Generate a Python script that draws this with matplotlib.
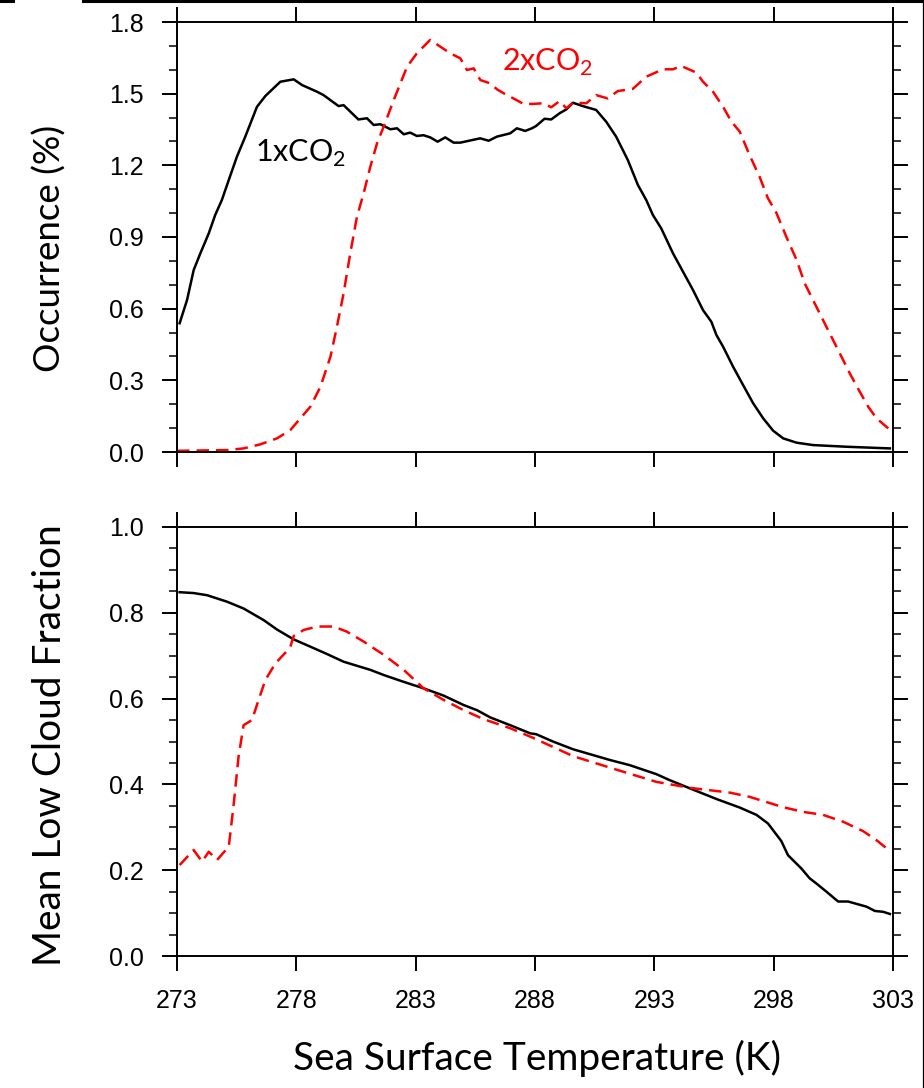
import matplotlib
matplotlib.use("Agg")
import matplotlib.pyplot as plt
from matplotlib.lines import Line2D
from matplotlib.ticker import MultipleLocator

# occurrence (%) vs SST
sst_occ_1x = [273.11, 273.42, 273.7, 273.98, 274.33, 274.6, 274.88, 275.17, 275.51, 275.86,
              276.35, 276.7, 277.33, 277.89, 278.24, 278.87, 279.14, 279.77, 279.98, 280.6,
              280.96, 281.24, 281.52, 281.94, 282.22, 282.5, 282.77, 283.05, 283.33, 283.61,
              283.92, 284.24, 284.59, 284.87, 285.7, 286.06, 286.4, 286.96, 287.24, 287.59,
              287.87, 288.05, 288.4, 288.68, 289.03, 289.31, 289.59, 290.0, 290.56, 290.98,
              291.4, 291.89, 292.31, 292.66, 292.94, 293.29, 293.78, 294.2, 294.62, 295.04,
              295.39, 295.6, 295.88, 296.3, 296.72, 297.14, 297.56, 297.98, 298.4, 298.96,
              299.65, 301.05, 302.87]
occ_1x = [0.539, 0.636, 0.762, 0.832, 0.915, 0.992, 1.055, 1.139, 1.236, 1.32,
          1.445, 1.49, 1.55, 1.56, 1.536, 1.508, 1.494, 1.448, 1.452, 1.392,
          1.397, 1.369, 1.372, 1.351, 1.355, 1.33, 1.337, 1.323, 1.326, 1.317,
          1.299, 1.317, 1.295, 1.295, 1.313, 1.303, 1.32, 1.334, 1.355, 1.344,
          1.355, 1.365, 1.395, 1.392, 1.418, 1.434, 1.462, 1.448, 1.432, 1.383,
          1.32, 1.222, 1.118, 1.055, 0.992, 0.936, 0.832, 0.755, 0.678, 0.594,
          0.545, 0.49, 0.441, 0.357, 0.28, 0.204, 0.141, 0.089, 0.057, 0.039,
          0.029, 0.022, 0.015]

sst_occ_2x = [273.0, 275.09, 275.79, 276.49, 277.19, 277.75, 278.17, 278.59, 279.01, 279.43,
              279.7, 279.98, 280.26, 280.54, 280.82, 281.1, 281.38, 281.66, 282.08, 282.64,
              283.05, 283.61, 284.03, 284.45, 284.87, 285.15, 285.43, 285.71, 286.13, 286.41,
              286.82, 287.1, 287.52, 287.9, 288.35, 288.68, 289.03, 289.31, 289.59, 290.15,
              290.56, 291.05, 291.47, 292.1, 292.66, 293.36, 293.78, 294.13, 294.76, 295.04,
              295.46, 295.88, 296.23, 296.58, 296.99, 297.41, 297.76, 298.11, 298.53, 298.96,
              299.3, 299.79, 300.21, 300.77, 301.19, 301.61, 301.96, 302.31, 302.8]
occ_2x = [0.005, 0.008, 0.015, 0.032, 0.057, 0.092, 0.141, 0.19, 0.273, 0.399,
          0.524, 0.664, 0.832, 0.985, 1.083, 1.194, 1.292, 1.362, 1.473, 1.613,
          1.669, 1.725, 1.697, 1.669, 1.648, 1.599, 1.606, 1.557, 1.543, 1.518,
          1.494, 1.48, 1.457, 1.457, 1.46, 1.443, 1.469, 1.439, 1.462, 1.46,
          1.494, 1.48, 1.511, 1.52, 1.571, 1.602, 1.602, 1.616, 1.588, 1.55,
          1.508, 1.445, 1.383, 1.341, 1.243, 1.152, 1.062, 1.002, 0.901, 0.804,
          0.706, 0.608, 0.524, 0.413, 0.329, 0.252, 0.19, 0.141, 0.099]

# mean low cloud fraction vs SST
sst_cf_1x = [273.11, 273.7, 274.26, 275.09, 275.79, 276.63, 277.19, 277.89, 278.59, 279.28,
             279.98, 281.1, 281.66, 282.5, 283.33, 284.17, 285.01, 285.57, 286.13, 286.96,
             287.8, 288.05, 288.75, 289.59, 291.13, 291.96, 293.08, 293.64, 294.48, 295.6,
             296.58, 297.28, 297.76, 298.32, 298.6, 299.16, 299.51, 299.79, 300.21, 300.7,
             301.12, 301.89, 302.24, 302.59, 302.87]
cf_1x = [0.848, 0.846, 0.841, 0.826, 0.81, 0.783, 0.761, 0.738, 0.721, 0.704,
         0.686, 0.667, 0.655, 0.639, 0.624, 0.607, 0.585, 0.573, 0.556, 0.538,
         0.519, 0.517, 0.5, 0.482, 0.457, 0.445, 0.424, 0.41, 0.391, 0.366,
         0.346, 0.329, 0.309, 0.268, 0.235, 0.204, 0.181, 0.169, 0.15, 0.127,
         0.127, 0.115, 0.105, 0.103, 0.098]

sst_cf_2x = [273.11, 273.7, 274.05, 274.33, 274.68, 275.17, 275.38, 275.58, 275.79, 276.14,
             276.42, 276.7, 277.12, 277.54, 277.75, 277.89, 278.31, 278.87, 279.56, 280.12,
             280.82, 281.66, 282.5, 283.33, 284.17, 285.01, 285.85, 286.96, 287.9, 289.59,
             291.26, 293.08, 294.48, 296.15, 296.99, 298.39, 299.23, 300.07, 300.91, 301.75,
             302.31, 302.73]
cf_2x = [0.212, 0.247, 0.22, 0.243, 0.224, 0.255, 0.356, 0.465, 0.538, 0.55,
         0.597, 0.643, 0.682, 0.707, 0.721, 0.746, 0.76, 0.768, 0.768, 0.756,
         0.733, 0.702, 0.667, 0.624, 0.597, 0.573, 0.552, 0.531, 0.509, 0.466,
         0.437, 0.406, 0.392, 0.381, 0.371, 0.347, 0.336, 0.329, 0.313, 0.291,
         0.27, 0.251]

xticks = [273, 278, 283, 288, 293, 298, 303]

W, H = 924, 1088
fig = plt.figure(figsize=(W / 100, H / 100), dpi=100)

ax1 = fig.add_axes([177 / W, 1 - 452 / H, 716 / W, 430 / H])
ax2 = fig.add_axes([177 / W, 1 - 956 / H, 716 / W, 429 / H])

dash = (5, 2.8)
ax1.plot(sst_occ_1x, occ_1x, color="black", lw=1.8)
ax1.plot(sst_occ_2x, occ_2x, color="red", lw=1.8, dashes=dash)
ax2.plot(sst_cf_1x, cf_1x, color="black", lw=1.8)
ax2.plot(sst_cf_2x, cf_2x, color="red", lw=1.8, dashes=dash)

ax1.set_ylim(0, 1.8)
ax1.yaxis.set_major_locator(MultipleLocator(0.3))
ax1.yaxis.set_minor_locator(MultipleLocator(0.1))
ax2.set_ylim(0, 1.0)
ax2.yaxis.set_major_locator(MultipleLocator(0.2))
ax2.yaxis.set_minor_locator(MultipleLocator(0.05))

for ax in (ax1, ax2):
    ax.set_xlim(273, 303)
    ax.set_xticks(xticks)
    for s in ax.spines.values():
        s.set_linewidth(1.4)
    ax.tick_params(which="major", direction="out", length=11, width=1.4,
                   top=True, right=True, labelsize=18, pad=13)
    ax.tick_params(which="minor", direction="out", length=5.5, width=1.1,
                   left=True, right=True, top=False, bottom=False)
    ax.tick_params(axis="x", which="minor", bottom=False, top=False)
    ax.yaxis.set_major_formatter(matplotlib.ticker.FormatStrFormatter("%.1f"))
    for lab in ax.get_xticklabels() + ax.get_yticklabels():
        lab.set_fontfamily("Liberation Sans")

ax1.set_xticklabels([])

ax1.set_ylabel("Occurrence (%)", family="Lato", fontsize=26.5, va="center")
ax1.yaxis.set_label_coords(-0.178, 0.474)
ax2.set_ylabel("Mean Low Cloud Fraction", family="Lato", fontsize=28, va="center")
ax2.yaxis.set_label_coords(-0.178, 0.492)
fig.text(537 / W, 1 - 1058 / H, "Sea Surface Temperature (K)", ha="center", va="center",
         family="Lato", fontsize=28)

ax1.text(276.27, 1.25, r"1xCO$_{\mathregular{2}}$", family="Lato", fontsize=22,
         color="black", va="center", ha="left")
ax1.text(286.6, 1.63, r"2xCO$_{\mathregular{2}}$", family="Lato", fontsize=22,
         color="red", va="center", ha="left")

# bits of the surrounding frame visible in the crop
fig.add_artist(Line2D([0, 13 / W], [1 - 1 / H, 1 - 1 / H], color="black", lw=2.2, transform=fig.transFigure))
fig.add_artist(Line2D([83 / W, 1], [1 - 1 / H, 1 - 1 / H], color="black", lw=2.2, transform=fig.transFigure))
fig.add_artist(Line2D([922.5 / W, 922.5 / W], [0, 1], color="black", lw=0.9, transform=fig.transFigure))

fig.savefig("out.png", dpi=100)
